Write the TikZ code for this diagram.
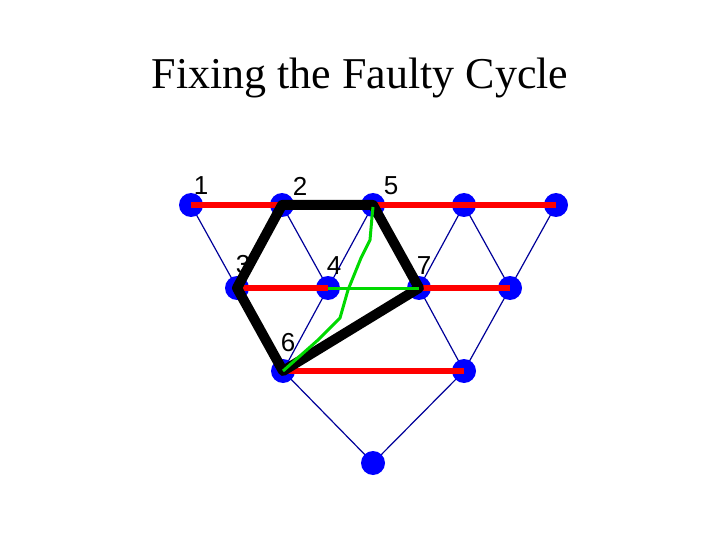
\documentclass[tikz,border=0pt]{standalone}
\usepackage{fontspec}
\setmainfont{Liberation Serif}
\newfontfamily\lsans{Liberation Sans}
\begin{document}
\begin{tikzpicture}[x=1pt,y=-1pt,
  v/.style={circle,fill=blue,inner sep=0pt,minimum size=24pt},
  lab/.style={font=\lsans\fontsize{26}{26}\selectfont},
  thin/.style={draw=blue!60!black,line width=1.2pt},
  red/.style={draw=red,line width=6.5pt},
  blk/.style={draw=black,line width=10pt,line cap=round,line join=round},
  grn/.style={draw=green!85!black,line width=3pt}]
\useasboundingbox (0,0) rectangle (720,540);
\node[font=\fontsize{44}{44}\selectfont] (t) at (360,78) {Fixing the Faulty Cycle};
\coordinate (a1) at (191,205); \coordinate (a2) at (282,205); \coordinate (a5) at (373,205);
\coordinate (a8) at (464,205); \coordinate (a9) at (556,205);
\coordinate (a3) at (237,288); \coordinate (a4) at (328,288); \coordinate (a7) at (419,288);
\coordinate (a10) at (510,288);
\coordinate (a6) at (283,371); \coordinate (a11) at (464,371);
\coordinate (a12) at (373,463);
\foreach \p/\q in {a1/a3,a2/a4,a5/a4,a5/a7,a8/a7,a8/a10,a9/a10,a3/a6,a4/a6,a7/a11,a10/a11,a6/a12,a11/a12}
  \draw[thin] (\p) -- (\q);
\foreach \p in {a1,a2,a5,a8,a9,a3,a4,a7,a10,a6,a11,a12}
  \node[v] (n\p) at (\p) {};
\foreach \p/\q in {a1/a2,a5/a8,a8/a9,a3/a4,a7/a10,a6/a11}
  \draw[red] (\p) -- (\q);
\draw[blk] (a3) -- (a2) -- (a5) -- (a7) -- (a6) -- cycle;
\draw[grn] (a4) -- (a7);
\draw[grn] (373,207) -- (372,217) -- (370,240) -- (361,258) -- (348,290) -- (340,318) -- (318,340) -- (a6);
\node[lab] (l1) at (201,186) {1};
\node[lab] (l2) at (300,186) {2};
\node[lab] (l5) at (391,186) {5};
\node[lab] (l3) at (243,265) {3};
\node[lab] (l4) at (334,266) {4};
\node[lab] (l7) at (424,266) {7};
\node[lab] (l6) at (288,343) {6};
\end{tikzpicture}
\end{document}
